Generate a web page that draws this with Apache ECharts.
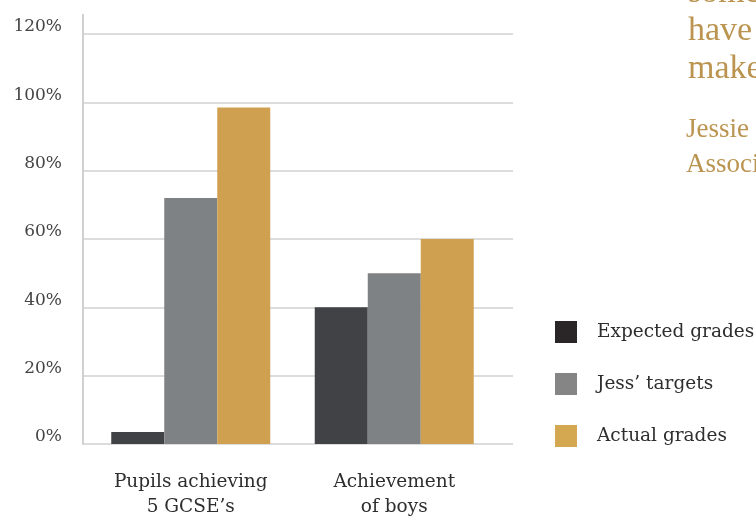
<!DOCTYPE html>
<html>
<head>
<meta charset="utf-8">
<script src="https://cdn.jsdelivr.net/npm/echarts@6/dist/echarts.min.js"></script>
<style>
html,body{margin:0;padding:0;background:#fff;}
#chart{width:756px;height:517px;}
</style>
</head>
<body>
<div id="chart"></div>
<script>
var categories = ["Pupils achieving\n5 GCSE\u2019s", "Achievement\nof boys"];
var seriesNames = ["Expected grades", "Jess\u2019 targets", "Actual grades"];
var expectedGrades = [3.5, 40];
var jessTargets = [72, 50];
var actualGrades = [98.5, 60];
var yTicks = [0, 20, 40, 60, 80, 100, 120];

var barColors = ["#404245", "#7f8285", "#cfa050"];
var legendColors = ["#2a2527", "#858585", "#d4a850"];
var serif = "DejaVu Serif";

var chart = echarts.init(document.getElementById('chart'));
var values = [expectedGrades, jessTargets, actualGrades];

chart.setOption({
  animation: false,
  backgroundColor: '#fff',
  grid: [
    {left: 83, right: 243, top: 34, bottom: 73, outerBoundsMode: 'none', containLabel: false},
    {left: 89, right: 260, top: 34, bottom: 73, outerBoundsMode: 'none', containLabel: false}
  ],
  legend: {
    orient: 'vertical',
    left: 550,
    top: 316,
    itemWidth: 22,
    itemHeight: 22,
    itemGap: 30,
    icon: 'rect',
    textStyle: {fontFamily: serif, fontSize: 18.5, color: '#2e2e2e', padding: [0, 0, 0, 15]},
    data: seriesNames.map(function (n, i) {
      return {name: n, itemStyle: {color: legendColors[i]}};
    })
  },
  xAxis: [
    {type: 'category', gridIndex: 0, data: categories, show: false},
    {
      type: 'category', gridIndex: 1, data: categories,
      axisLine: {show: false}, axisTick: {show: false},
      axisLabel: {fontFamily: serif, fontSize: 18.5, color: '#2e2e2e', lineHeight: 25, margin: 26}
    }
  ],
  yAxis: [
    {
      type: 'value', gridIndex: 0, min: yTicks[0], max: yTicks[yTicks.length - 1], interval: 20,
      axisLine: {show: true, lineStyle: {color: '#d0d0d0', width: 2}},
      axisTick: {show: false},
      splitLine: {lineStyle: {color: '#dcdcdc', width: 2}},
      axisLabel: {fontFamily: serif, fontSize: 17, color: '#444', margin: 21,
        verticalAlign: 'bottom', lineHeight: 14,
        formatter: function (v) { return v + '%'; }}
    },
    {
      type: 'value', gridIndex: 1, min: yTicks[0], max: yTicks[yTicks.length - 1], interval: 20,
      show: false, splitLine: {show: false}
    }
  ],
  series: seriesNames.map(function (n, i) {
    return {
      name: n, type: 'bar', xAxisIndex: 1, yAxisIndex: 1,
      data: values[i], barWidth: 53, barGap: '0%',
      itemStyle: {color: barColors[i]}
    };
  }),
  graphic: [
    {type: 'line', shape: {x1: 83, y1: 14, x2: 83, y2: 34}, style: {stroke: '#d0d0d0', lineWidth: 2}},
    {type: 'text', left: 688, top: -26, style: {text: 'some\nhave\nmake', font: '34px "Liberation Serif"', fill: '#bb9450', lineHeight: 38}},
    {type: 'text', left: 686, top: 112, style: {text: 'Jessie\nAssoci', font: '27px "Liberation Serif"', fill: '#bb9450', lineHeight: 35}}
  ]
});
</script>
</body>
</html>
